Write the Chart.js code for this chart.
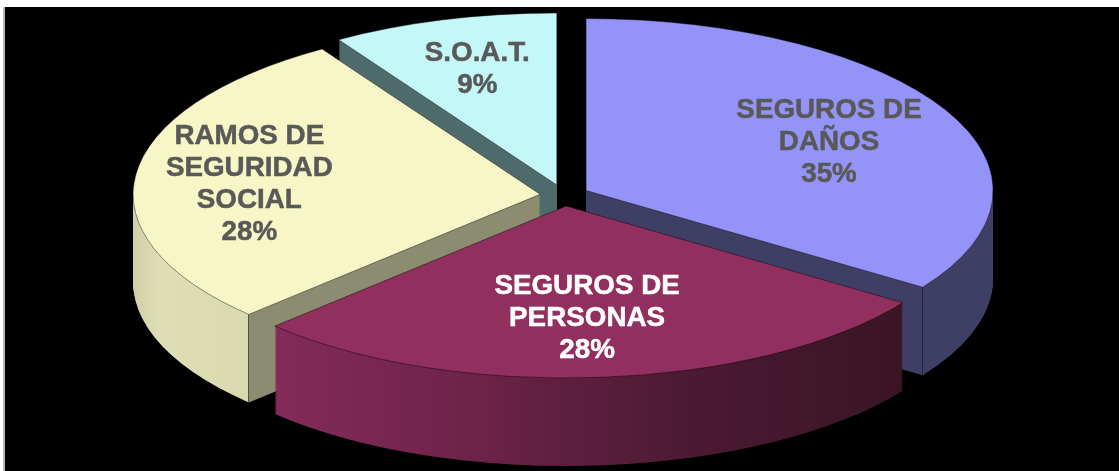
<!DOCTYPE html>
<html lang="es">
<head>
<meta charset="utf-8">
<title>Ramos de seguros</title>
<style>
  html, body { margin: 0; height: 100%; background: #fff; overflow: hidden; }
  /* thin grey rule left of the black panel, as in the scanned slide */
  #rule { position: absolute; left: 3px; top: 7px; width: 2px; height: 464px; background: #b8b8b8; }
  #panel { position: absolute; left: 5px; top: 7px; width: 1114px; height: 464px; background: #000; }
</style>
</head>
<body>
<div id="rule"></div>
<div id="panel"><canvas id="pieChart"></canvas></div>
<script src="https://cdn.jsdelivr.net/npm/chart.js@4"></script>
<script>
/* ─── DATA ─────────────────────────────────────────────── */
const categories = [
  ['SEGUROS DE', 'DAÑOS'],
  ['SEGUROS DE', 'PERSONAS'],
  ['RAMOS DE', 'SEGURIDAD', 'SOCIAL'],
  ['S.O.A.T.']
];
const shares = [34.5, 28.2, 28.3, 9.0];
const shareLabels = ['35%', '28%', '28%', '9%'];

/* ─── STYLE ────────────────────────────────────────────── */
const topColors = ['#9494f8', '#912f5f', '#f6f6c6', '#c4f7f7'];
const textColors = ['#595959', '#ffffff', '#595959', '#595959'];
const explode = [25, 25, 24, 26];        // how far each slice is pulled out
const labelFrac = [0.667, 0.64, 0.717, 0.70]; // label distance along the mid angle
const labelNudgeX = [3, -2, -1, 0];
const labelNudgeY = [5, 3, 4, 0];
const drawOrder = [3, 0, 2, 1];          // back to front

const SQUASH = 0.4226;   // tilt of the pie
const DEPTH = 88;        // height of the extruded side, px
const CENTER_Y = 188.5;  // pie centre inside the canvas
const FONT_SIZE = 27.8;
const LINE_H = 32;

/* Side colour for each slice. Horizontal gradients only, so the
   y squash does not touch them. The hard stop splits rim from cut face.
   Stops are in the arc's own space: the explode translate moves them too. */
function sideFill(ctx, i, arc, width) {
  const g = ctx.createLinearGradient(0, 0, width, 0);
  const add = (x, c) => g.addColorStop(Math.min(1, Math.max(0, x / width)), c);
  const R = arc.outerRadius;
  if (i === 0) {
    const xc = arc.x + Math.cos(arc.endAngle) * R;
    add(0, '#3f3f66');
    add(xc - 1, '#3f3f66'); add(xc - 1, '#25253f'); add(xc, '#25253f'); add(xc, '#3f3f66');
    add(width, '#3f3f66');
  } else if (i === 1) {
    const l = arc.x - R * 0.73, r = arc.x + R * 0.83;
    add(l, '#842b5a');
    add(l + (r - l) * 0.33, '#6c2348');
    add(l + (r - l) * 0.66, '#4b1a32');
    add(r, '#3a1524');
  } else if (i === 2) {
    const xc = arc.x + Math.cos(arc.startAngle) * R;
    add(arc.x - R, '#cfcfa8');
    add(arc.x - R + 25, '#dedeb6');
    add(xc - 1, '#dadab1'); add(xc - 1, '#55553f'); add(xc, '#55553f'); add(xc, '#8c8c70');
    add(width, '#8c8c70');
  } else {
    return '#4f6b6b';
  }
  return g;
}

/* Draws the arcs of the pie as a tilted, extruded 3D pie */
const pie3d = {
  id: 'pie3d',
  beforeDatasetsDraw(chart) {
    const ctx = chart.ctx;
    const arcs = chart.getDatasetMeta(0).data;

    drawOrder.forEach((i) => {
      const arc = arcs[i];
      const opts = arc.options;
      const mid = (arc.startAngle + arc.endAngle) / 2;
      const ox = Math.cos(mid) * explode[i];
      const oy = Math.sin(mid) * explode[i];
      const side = sideFill(ctx, i, arc, chart.width);

      const place = (dy) => {
        ctx.translate(0, CENTER_Y + dy);
        ctx.scale(1, SQUASH);
        ctx.translate(ox, oy - arc.y);
      };

      arc.options = { ...opts, backgroundColor: side, borderWidth: 0 };
      for (let dy = DEPTH; dy > 0; dy--) {
        ctx.save();
        place(dy);
        arc.draw(ctx);
        ctx.restore();
      }
      arc.options = opts;

      ctx.save();
      place(0);
      arc.draw(ctx);
      ctx.restore();
    });

    // labels sit on each slice's mid angle
    ctx.save();
    ctx.font = 'bold ' + FONT_SIZE + 'px "Liberation Sans", Arial, sans-serif';
    ctx.textAlign = 'center';
    ctx.textBaseline = 'middle';
    ctx.lineWidth = 0.5;
    arcs.forEach((arc, i) => {
      const mid = (arc.startAngle + arc.endAngle) / 2;
      const r = arc.outerRadius * labelFrac[i] + explode[i];
      const lx = arc.x + Math.cos(mid) * r + labelNudgeX[i];
      const ly = CENTER_Y + Math.sin(mid) * r * SQUASH + labelNudgeY[i];
      const lines = [...categories[i], shareLabels[i]];
      ctx.fillStyle = textColors[i];
      ctx.strokeStyle = textColors[i];
      lines.forEach((t, n) => {
        const y = ly + (n - (lines.length - 1) / 2) * LINE_H;
        ctx.fillText(t, lx, y);
        ctx.strokeText(t, lx, y);
      });
    });
    ctx.restore();
    return false;
  }
};

new Chart(document.getElementById('pieChart'), {
  type: 'pie',
  data: {
    labels: categories.map((c) => c.join(' ')),
    datasets: [{
      data: shares,
      backgroundColor: topColors,
      borderColor: 'rgba(0, 0, 0, 0.6)',
      borderWidth: 1
    }]
  },
  options: {
    responsive: true,
    maintainAspectRatio: false,
    animation: false,
    radius: 407,
    layout: { padding: { left: 4 } },
    plugins: { legend: { display: false }, tooltip: { enabled: false } }
  },
  plugins: [pie3d]
});
</script>
</body>
</html>
